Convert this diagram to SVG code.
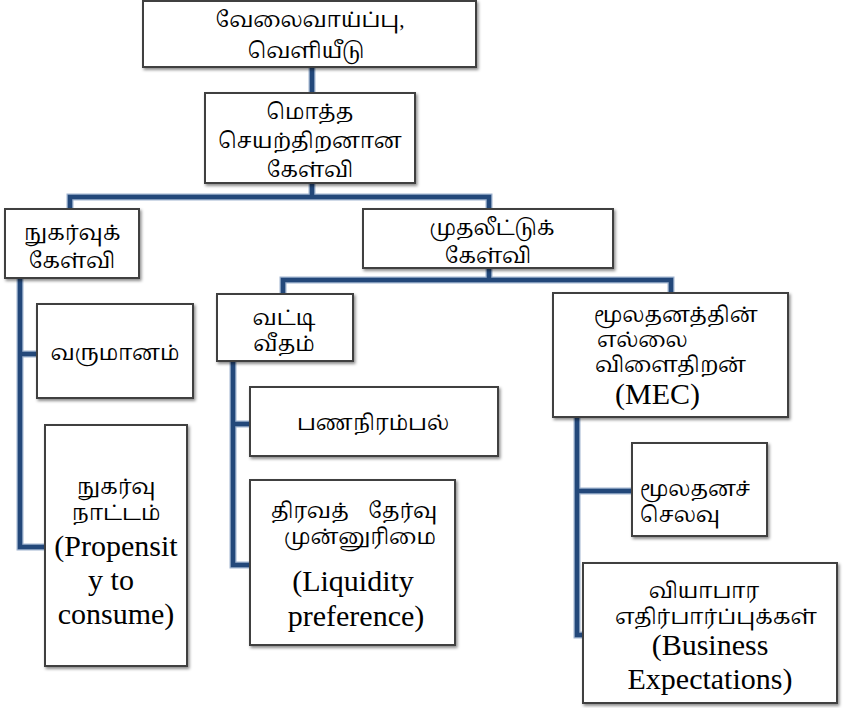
<svg xmlns="http://www.w3.org/2000/svg" width="847" height="708" viewBox="0 0 847 708">
<defs>
<filter id="sh" x="-10%" y="-10%" width="125%" height="125%">
<feDropShadow dx="1.5" dy="2" stdDeviation="1.5" flood-color="#000" flood-opacity="0.45"/>
</filter>
<style>
.box{fill:#fff;stroke:#404040;stroke-width:2;filter:url(#sh)}
.ta{font-family:"Liberation Serif","Noto Serif Tamil","Noto Sans Tamil",serif;font-size:21px;fill:#000;text-anchor:middle}
.en{font-family:"Liberation Serif","Times New Roman",serif;font-size:30px;fill:#000;text-anchor:middle}
.st{text-anchor:start}
.halo{fill:none;stroke:#9fb3cf;stroke-width:7}
.ln{fill:none;stroke:#23487a;stroke-width:4.5}
</style>
</defs>
<g id="connectors">
<path class="halo" d="M312 67V93 M312 183V197 M70 209V197H489V209 M489 268V280 M283 294V280H671V293 M20 278V547H45 M20 354H37 M233 361V565H250 M233 424H250 M577 417V635H583 M577 491H632"/>
<path class="ln" d="M312 67V93 M312 183V197 M70 209V197H489V209 M489 268V280 M283 294V280H671V293 M20 278V547H45 M20 354H37 M233 361V565H250 M233 424H250 M577 417V635H583 M577 491H632"/>
</g>
<g id="n1"><rect class="box" x="143" y="1" width="333" height="66"/>
<text class="ta" x="310" y="27">வேலைவாய்ப்பு,</text><text class="ta" x="306" y="58">வெளியீடு</text></g>
<g id="n2"><rect class="box" x="205" y="93" width="210" height="90"/>
<text class="ta" x="310" y="119">மொத்த</text><text class="ta" x="310" y="148">செயற்திறனான</text><text class="ta" x="310" y="177">கேள்வி</text></g>
<g id="n3"><rect class="box" x="5" y="209" width="134" height="69"/>
<text class="ta" x="72" y="240">நுகர்வுக்</text><text class="ta" x="72" y="268">கேள்வி</text></g>
<g id="n4"><rect class="box" x="363" y="209" width="250" height="59"/>
<text class="ta" x="492" y="235">முதலீட்டுக்</text><text class="ta" x="488" y="263">கேள்வி</text></g>
<g id="n5"><rect class="box" x="217" y="294" width="136" height="67"/>
<text class="ta" x="284" y="325">வட்டி</text><text class="ta" x="284" y="351">வீதம்</text></g>
<g id="n6"><rect class="box" x="553" y="293" width="235" height="124"/>
<text class="ta st" x="594" y="322">மூலதனத்தின்</text><text class="ta st" x="597" y="347">எல்லை</text><text class="ta st" x="595" y="372">விளைதிறன்</text><text class="en st" x="615" y="404">(MEC)</text></g>
<g id="n7"><rect class="box" x="37" y="304" width="156" height="94"/>
<text class="ta" x="115" y="360">வருமானம்</text></g>
<g id="n8"><rect class="box" x="45" y="425" width="142" height="241"/>
<text class="ta" x="116" y="494">நுகர்வு</text><text class="ta" x="116" y="520">நாட்டம்</text><text class="en" x="116" y="556">(Propensit</text><text class="en" x="111" y="590">y to</text><text class="en" x="116" y="624">consume)</text></g>
<g id="n9"><rect class="box" x="250" y="387" width="248" height="69"/>
<text class="ta" x="373" y="430">பணநிரம்பல்</text></g>
<g id="n10"><rect class="box" x="250" y="480" width="205" height="165"/>
<text class="ta" x="354" y="518" word-spacing="14">திரவத் தேர்வு</text><text class="ta" x="360" y="544">முன்னுரிமை</text><text class="en" x="353" y="591">(Liquidity</text><text class="en" x="356" y="626">preference)</text></g>
<g id="n11"><rect class="box" x="632" y="443" width="135" height="93"/>
<text class="ta st" x="640" y="496">மூலதனச்</text><text class="ta st" x="640" y="522">செலவு</text></g>
<g id="n12"><rect class="box" x="583" y="563" width="254" height="140"/>
<text class="ta" x="704" y="598">வியாபார</text><text class="ta" x="716" y="624">எதிர்பார்ப்புக்கள்</text><text class="en" x="710" y="655">(Business</text><text class="en" x="710" y="689">Expectations)</text></g>
</svg>
